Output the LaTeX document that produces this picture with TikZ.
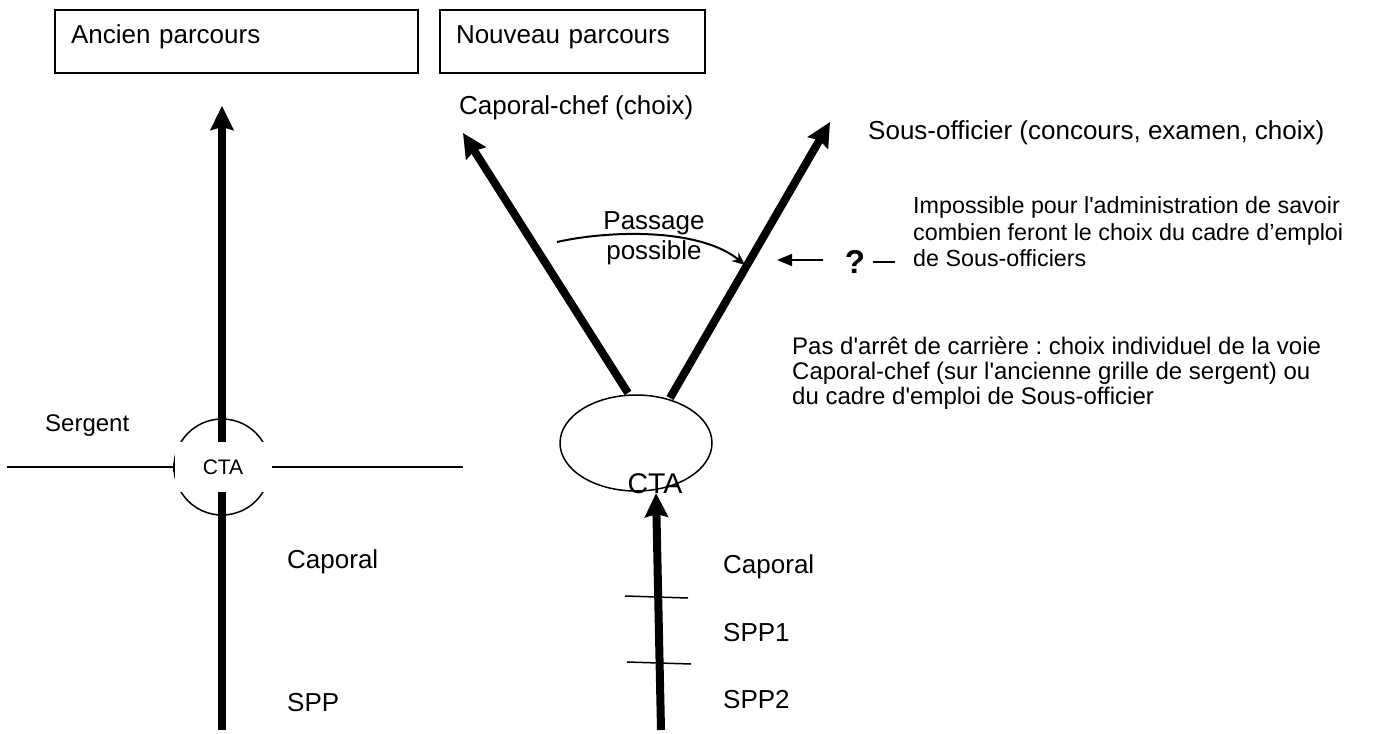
\documentclass[tikz,border=0pt]{standalone}
\usepackage{fontspec}
\setmainfont{Liberation Sans}[Ligatures=TeXOff]
\usetikzlibrary{arrows.meta,shapes.geometric}
\frenchspacing
\begin{document}
\begin{tikzpicture}[x=1pt,y=-1pt,
 txt/.style={inner sep=0pt, anchor=west, font=\fontsize{26}{30}\selectfont},
 small/.style={inner sep=0pt, anchor=west, align=left, font=\fontsize{23.3}{26.5}\selectfont},
 thickarrow/.style={line width=8pt, -{Stealth[length=24pt,width=23pt,inset=3pt]}},
 thinline/.style={line width=1.5pt},
 box/.style={draw, line width=1.5pt, minimum height=63pt, inner xsep=16pt, inner ysep=0pt, text height=19pt, text depth=15pt, align=left, font=\fontsize{26}{30}\selectfont}]
\useasboundingbox (0,0) rectangle (1375,733);
% title boxes
\node[box, minimum width=363pt, text width=331pt] (b1) at (236.5,41.5) {Ancien parcours};
\node[box, minimum width=265pt, text width=233pt] (b2) at (572.5,41.5) {Nouveau parcours};
% old path
\coordinate (oldbot) at (222,730);
\coordinate (oldtop) at (222,106);
\draw[thickarrow] (oldbot) -- (oldtop);
\node[circle, draw, thinline, minimum size=96pt, inner sep=0pt] (ring) at (222,467) {};
\node[fill=white, minimum width=97pt, minimum height=50pt, inner sep=0pt, font=\fontsize{21}{24}\selectfont] (cta1) at (223,467) {CTA};
\coordinate (hl) at (7,467);
\coordinate (hr) at (463,467);
\draw[thinline, -{Bar[width=9pt]}] (hl) -- (cta1.west);
\draw[thinline] (cta1.east) -- (hr);
\node[txt, font=\fontsize{24}{28}\selectfont] (serg) at (45,426) {Sergent};
\node[txt] (cap1) at (287,562) {Caporal};
\node[txt] (spp) at (287,703) {SPP};
% new path
\node[ellipse, draw, thinline, minimum width=152pt, minimum height=96pt, inner sep=0pt] (ell) at (636,443) {};
\node[inner sep=0pt, font=\fontsize{28.5}{32}\selectfont] (cta2) at (655,484) {CTA};
\coordinate (newbot) at (661,730);
\coordinate (newtip) at (656,493);
\draw[thickarrow] (newbot) -- (newtip);
\coordinate (t1a) at (625,596); \coordinate (t1b) at (688,598);
\coordinate (t2a) at (627,662); \coordinate (t2b) at (691,664);
\draw[thinline] (t1a) -- (t1b);
\draw[thinline] (t2a) -- (t2b);
\node[txt] (cap2) at (723,567) {Caporal};
\node[txt] (spp1) at (723,633) {SPP1};
\node[txt] (spp2) at (723,700) {SPP2};
\coordinate (lstart) at (628,393);
\coordinate (ltip) at (463,133);
\draw[thickarrow] (lstart) -- (ltip);
\coordinate (rstart) at (670,398);
\coordinate (rtip) at (830,122);
\draw[thickarrow] (rstart) -- (rtip);
\node[txt] (cch) at (459,108) {Caporal-chef (choix)};
\node[txt] (soff) at (868,133) {Sous-officier (concours, examen, choix)};
% passage
\node[inner sep=0pt, align=center, font=\fontsize{26}{30}\selectfont] (pass) at (654,238) {Passage\\possible};
\coordinate (pa) at (557,242);
\coordinate (pb) at (745,265);
\draw[line width=2pt, -{Stealth[length=13pt,width=11pt]}] (pa) .. controls (610,230) and (700,228) .. (pb);
% question
\node[inner sep=0pt, font=\bfseries\fontsize{33}{36}\selectfont] (q) at (855,262) {?};
\coordinate (qa) at (823,260);
\coordinate (qb) at (777,260);
\draw[thinline, -{Triangle[length=15pt,width=12pt]}] (qa) -- (qb);
\node[small] (imp) at (913,232) {Impossible pour l'administration de savoir\\combien feront le choix du cadre d’emploi\\de Sous-officiers};
\draw[thinline, shorten <=8pt, shorten >=18pt] (q.east) -- (q.east -| imp.west);
\node[small, font=\fontsize{24}{25}\selectfont] (pas) at (792,373) {Pas d'arrêt de carrière : choix individuel de la voie\\Caporal-chef (sur l'ancienne grille de sergent) ou\\du cadre d'emploi de Sous-officier};
\end{tikzpicture}
\end{document}
